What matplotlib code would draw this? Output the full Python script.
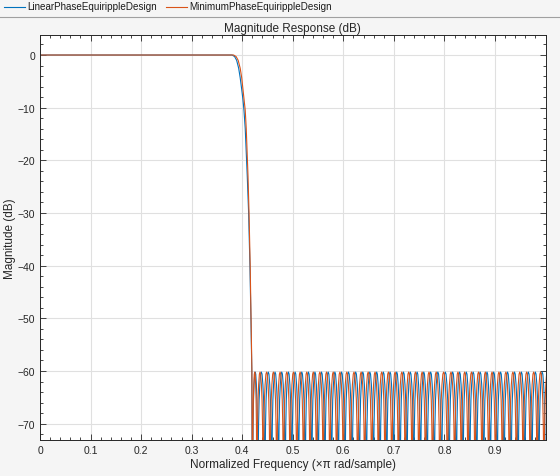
import matplotlib
matplotlib.use("Agg")
import matplotlib.pyplot as plt
import numpy as np
from matplotlib.lines import Line2D
from matplotlib.ticker import MultipleLocator, FixedLocator

plt.rcParams.update({
    "font.family": "sans-serif",
    "font.sans-serif": ["Liberation Sans", "DejaVu Sans"],
})

BLUE = "#0072BD"
ORANGE = "#D95319"
SERIES_NAMES = ["LinearPhaseEquirippleDesign", "MinimumPhaseEquirippleDesign"]

# passband / transition band (normalized freq, dB)
lin_trans_f = [0.0, 0.380, 0.385, 0.389, 0.393, 0.396, 0.399, 0.4015, 0.4035, 0.406, 0.408,
               0.410, 0.4127, 0.4153, 0.4173, 0.419, 0.4205]
lin_trans_db = [0.0, 0.0, -0.3, -1.0, -2.5, -4.3, -6.5, -8.5, -10.5, -14.0, -18.5,
                -23.0, -30.0, -40.0, -50.0, -60.0, -100.0]
min_trans_f = [0.0, 0.383, 0.388, 0.392, 0.396, 0.399, 0.4015, 0.404, 0.406, 0.408, 0.410,
               0.4115, 0.4135, 0.4158, 0.4176, 0.4192, 0.4205]
min_trans_db = [0.0, 0.0, -0.3, -1.0, -2.5, -4.3, -6.5, -8.8, -10.5, -14.0, -19.0,
                -23.0, -30.0, -40.0, -50.0, -60.0, -100.0]

# stopband nulls (lobe boundaries)
lin_nulls = [0.4205, 0.4310, 0.4448, 0.4583, 0.4716, 0.4849, 0.4980, 0.5113, 0.5245, 0.5375,
             0.5503, 0.5635, 0.5767, 0.5900, 0.6032, 0.6173, 0.6317, 0.6455, 0.6595, 0.6727,
             0.6858, 0.6992, 0.7123, 0.7258, 0.7393, 0.7527, 0.7658, 0.7798, 0.7943, 0.8092,
             0.8235, 0.8367, 0.8500, 0.8638, 0.8777, 0.8908, 0.9043, 0.9180, 0.9318, 0.9457,
             0.9590, 0.9730, 0.9868, 1.0000]
min_nulls = [0.4205, 0.4290, 0.4415, 0.4550, 0.4683, 0.4816, 0.4947, 0.5080, 0.5212, 0.5342,
             0.5470, 0.5602, 0.5734, 0.5867, 0.5999, 0.6140, 0.6284, 0.6422, 0.6562, 0.6694,
             0.6825, 0.6959, 0.7090, 0.7225, 0.7360, 0.7494, 0.7625, 0.7765, 0.7910, 0.8059,
             0.8202, 0.8334, 0.8467, 0.8605, 0.8744, 0.8875, 0.9010, 0.9147, 0.9285, 0.9424,
             0.9557, 0.9697, 0.9835, 0.9970, 1.0100]
lin_peak_db = -60.2
min_peak_db = -60.2

# shape of one stopband lobe, as fraction of its width and dB below its peak
lobe_t = [0.0, 0.02, 0.05, 0.10, 0.18, 0.28, 0.40, 0.50, 0.60, 0.72, 0.82, 0.90, 0.95, 0.98, 1.0]
lobe_db = [-40, -24, -16, -10, -5.3, -2.4, -0.4, 0, -0.4, -2.4, -5.3, -10, -16, -24, -40]


def build_curve(trans_f, trans_db, nulls, peak):
    f = list(trans_f)
    m = list(trans_db)
    t = np.array(lobe_t)
    d = np.array(lobe_db)
    for a, b in zip(nulls[:-1], nulls[1:]):
        f.extend(a + (b - a) * t[1:])
        m.extend(peak + d[1:])
    return np.array(f), np.array(m)


fig = plt.figure(figsize=(5.6, 4.77), dpi=100, facecolor="#f5f5f5")
ax = fig.add_axes([40 / 560, 1 - 441 / 477, 505.5 / 560, 405 / 477])
ax.set_facecolor("white")

f1, m1 = build_curve(lin_trans_f, lin_trans_db, lin_nulls, lin_peak_db)
f2, m2 = build_curve(min_trans_f, min_trans_db, min_nulls, min_peak_db)
ax.plot(f1, m1, color=BLUE, lw=0.8)
ax.plot(f2, m2, color=ORANGE, lw=0.8)

ax.set_xlim(0, 1.0)
ax.set_ylim(-73.1, 3.8)
ax.xaxis.set_major_locator(FixedLocator(np.arange(0, 0.95, 0.1)))
ax.set_xticklabels(["0"] + [f"{v:.1f}" for v in np.arange(0.1, 0.95, 0.1)])
ax.xaxis.set_minor_locator(MultipleLocator(0.02))
ax.yaxis.set_major_locator(FixedLocator(np.arange(-70, 1, 10)))
ax.yaxis.set_minor_locator(MultipleLocator(2))
ax.tick_params(which="both", direction="in", top=True, right=True, colors="#262626",
               labelsize=7.5, width=0.6)
ax.tick_params(which="major", length=4)
ax.tick_params(which="minor", length=2.5)
ax.grid(True, which="major", color="#e0e0e0", lw=0.8)
ax.set_axisbelow(True)
for s in ax.spines.values():
    s.set_color("#262626")
    s.set_linewidth(0.7)

ax.set_title("Magnitude Response (dB)", fontsize=8.5, color="#262626", pad=3)
ax.set_xlabel("Normalized Frequency (\u00d7\u03c0 rad/sample)", fontsize=8.5, color="#262626", labelpad=2)
ax.set_ylabel("Magnitude (dB)", fontsize=8.5, color="#262626", labelpad=1)

# legend strip across the top
fig.add_artist(Line2D([0, 1], [1 - 17.5 / 477] * 2, color="#a0a0a0", lw=0.8))
for x0, name, col in [(4, SERIES_NAMES[0], BLUE), (166, SERIES_NAMES[1], ORANGE)]:
    y = 1 - 7.5 / 477
    fig.add_artist(Line2D([x0 / 560, (x0 + 21) / 560], [y, y], color=col, lw=0.8))
    fig.text((x0 + 23) / 560, y, name, fontsize=7.1, va="center", ha="left", color="#1a1a1a")

fig.savefig("out.png", dpi=100, facecolor=fig.get_facecolor())
